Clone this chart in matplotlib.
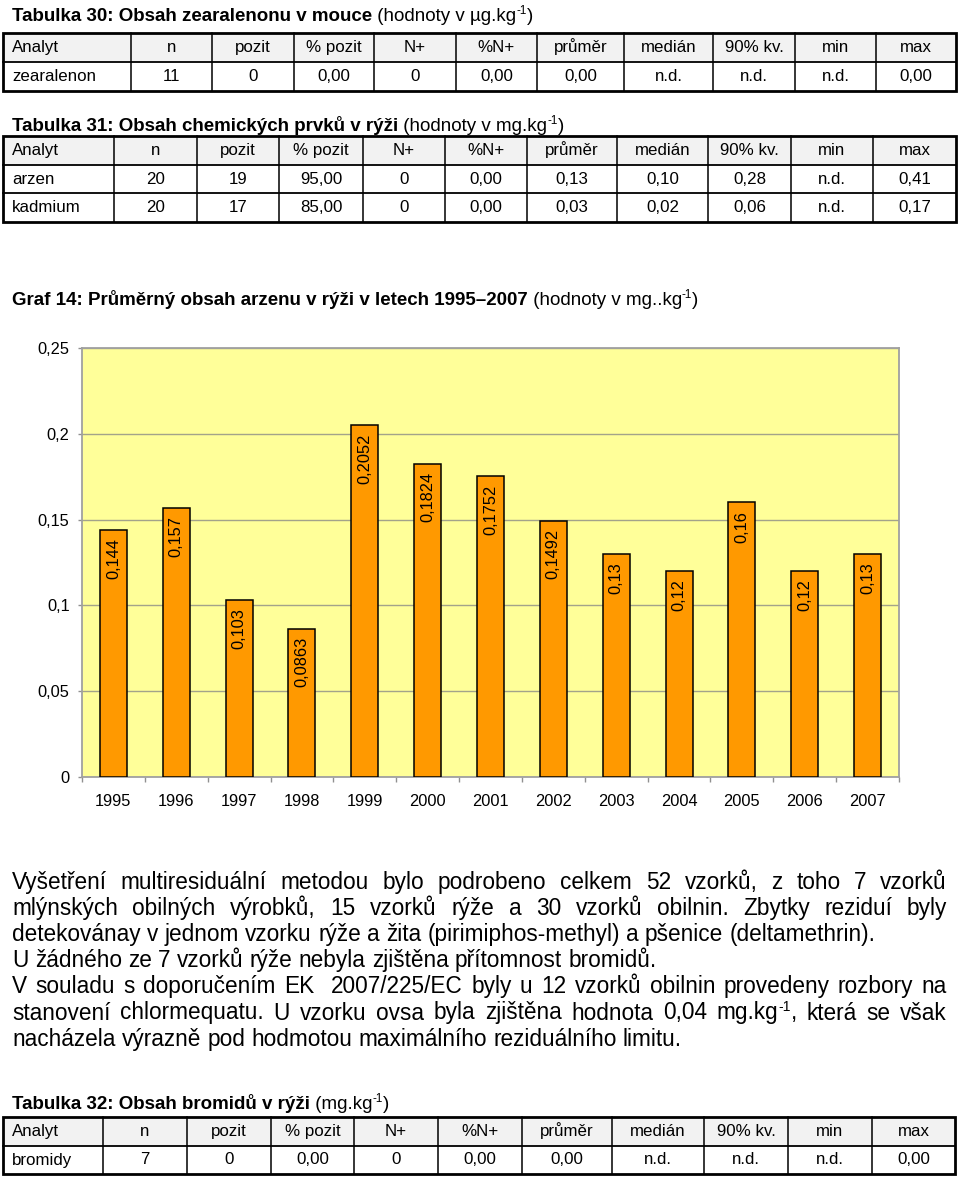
import numpy as np
import matplotlib
matplotlib.use("Agg")
import matplotlib.pyplot as plt
from matplotlib.ticker import MultipleLocator, FuncFormatter, FixedLocator
from matplotlib.patches import Rectangle

plt.rcParams['font.family'] = ['Liberation Sans', 'DejaVu Sans']

# ---- data ----
years = ["1995", "1996", "1997", "1998", "1999", "2000", "2001",
         "2002", "2003", "2004", "2005", "2006", "2007"]
arsenic = [0.144, 0.157, 0.103, 0.0863, 0.2052, 0.1824, 0.1752,
           0.1492, 0.13, 0.12, 0.16, 0.12, 0.13]

columns = ["Analyt", "n", "pozit", "% pozit", "N+", "%N+", "průměr",
           "medián", "90% kv.", "min", "max"]
t30_rows = [["zearalenon", "11", "0", "0,00", "0", "0,00", "0,00", "n.d.", "n.d.", "n.d.", "0,00"]]
t31_rows = [["arzen", "20", "19", "95,00", "0", "0,00", "0,13", "0,10", "0,28", "n.d.", "0,41"],
            ["kadmium", "20", "17", "85,00", "0", "0,00", "0,03", "0,02", "0,06", "n.d.", "0,17"]]
t32_rows = [["bromidy", "7", "0", "0,00", "0", "0,00", "0,00", "n.d.", "n.d.", "n.d.", "0,00"]]

paragraph = [
    ("Vyšetření multiresiduální metodou bylo podrobeno celkem 52 vzorků, z toho 7 vzorků", True),
    ("mlýnských obilných výrobků, 15 vzorků rýže a 30 vzorků obilnin. Zbytky reziduí byly", True),
    ("detekovánay v jednom vzorku rýže a žita (pirimiphos-methyl) a pšenice (deltamethrin).", False),
    ("U žádného ze 7 vzorků rýže nebyla zjištěna přítomnost bromidů.", False),
    ("V souladu s doporučením EK  2007/225/EC byly u 12 vzorků obilnin provedeny rozbory na", True),
    ("stanovení chlormequatu. U vzorku ovsa byla zjištěna hodnota 0,04 mg.kg^-1, která se však", True),
    ("nacházela výrazně pod hodmotou maximálního reziduálního limitu.", False),
]

fig = plt.figure(figsize=(9.6, 11.78), dpi=100)
page = fig.add_axes([0, 0, 1, 1])
page.set_xlim(0, 960)
page.set_ylim(1178, 0)
page.axis("off")
renderer = fig.canvas.get_renderer()


def text_width(t):
    return t.get_window_extent(renderer).width


def draw_runs(x, y, parts, size=13.5):
    # parts: (text, bold, superscript)
    for txt, bold, sup in parts:
        fs = size * 0.62 if sup else size
        t = page.text(x, y - (size * 0.5 if sup else 0), txt, fontsize=fs,
                      fontweight="bold" if bold else "normal", va="baseline", ha="left")
        x += text_width(t)
    return x


def draw_table(xs, ys, rows, size=12.2):
    page.add_patch(Rectangle((xs[0], ys[0]), xs[-1] - xs[0], ys[1] - ys[0],
                             facecolor="#f2f2f2", edgecolor="none"))
    for xv in xs[1:-1]:
        page.plot([xv, xv], [ys[0], ys[-1]], color="black", lw=1.1)
    for yv in ys[1:-1]:
        page.plot([xs[0], xs[-1]], [yv, yv], color="black", lw=1.3)
    page.add_patch(Rectangle((xs[0], ys[0]), xs[-1] - xs[0], ys[-1] - ys[0],
                             facecolor="none", edgecolor="black", lw=2.0))
    for r, row in enumerate([columns] + rows):
        yb = (ys[r] + ys[r + 1]) / 2 + 4.5
        for c, val in enumerate(row):
            if c == 0:
                page.text(xs[0] + 9, yb, val, fontsize=size, va="baseline", ha="left")
            else:
                page.text((xs[c] + xs[c + 1]) / 2, yb, val, fontsize=size,
                          va="baseline", ha="center")


# ---- tables ----
draw_runs(12, 21, [("Tabulka 30: Obsah zearalenonu v mouce", True, False),
                   (" (hodnoty v µg.kg", False, False), ("-1", False, True), (")", False, False)])
draw_table([3, 131, 212, 294, 374, 456, 537, 624, 713, 795, 876, 956],
           [33, 62, 91], t30_rows)

draw_runs(12, 131, [("Tabulka 31: Obsah chemických prvků v rýži", True, False),
                    (" (hodnoty v mg.kg", False, False), ("-1", False, True), (")", False, False)])
draw_table([3, 114, 197, 279, 363, 445, 527, 617, 708, 791, 873, 956],
           [136, 165, 193, 222], t31_rows)

draw_runs(12, 305, [("Graf 14: Průměrný obsah arzenu v rýži v letech 1995–2007", True, False),
                    (" (hodnoty v mg..kg", False, False), ("-1", False, True), (")", False, False)])

draw_runs(12, 1109, [("Tabulka 32: Obsah bromidů v rýži", True, False),
                     (" (mg.kg", False, False), ("-1", False, True), (")", False, False)])
draw_table([3, 103, 187, 271, 354, 438, 522, 612, 704, 788, 872, 955],
           [1117, 1146, 1174], t32_rows)

# ---- paragraph (justified) ----
psize = 16.3
probe1 = page.text(0, -100, "a a", fontsize=psize)
probe2 = page.text(0, -100, "aa", fontsize=psize)
space_w = text_width(probe1) - text_width(probe2)
probe1.remove()
probe2.remove()


def word_parts(w):
    if "^" not in w:
        return [(w, False, False)]
    a, b = w.split("^", 1)
    return [(a, False, False), (b[:2], False, True), (b[2:], False, False)]


def measure(parts):
    tot = 0
    for txt, bold, sup in parts:
        if not txt:
            continue
        t = page.text(0, -100, txt, fontsize=psize * 0.62 if sup else psize)
        tot += text_width(t)
        t.remove()
    return tot


left, right = 12, 947
for i, (line, justify) in enumerate(paragraph):
    yb = 889 + i * 26.1
    words = [word_parts(w) if w else [] for w in line.split(" ")]
    widths = [measure(p) for p in words]
    gap = (right - left - sum(widths)) / (len(words) - 1) if justify else space_w
    x = left
    for parts, w in zip(words, widths):
        if parts:
            draw_runs(x, yb, [p for p in parts if p[0]], size=psize)
        x += w + gap

# ---- chart ----
ax = fig.add_axes([82 / 960, 1 - 777 / 1178, (899 - 82) / 960, (777 - 348) / 1178])
ax.set_facecolor("#ffff99")
x = np.arange(len(years))
ax.bar(x, arsenic, width=0.43, color="#ff9900", edgecolor="black", lw=1.1, zorder=3)
for xi, v in zip(x, arsenic):
    ax.annotate(str(v).replace(".", ","), (xi, v), xytext=(0, -6), textcoords="offset points",
                rotation=90, ha="center", va="top", fontsize=11.8, zorder=4)

ax.set_xlim(-0.5, len(years) - 0.5)
ax.set_ylim(0, 0.25)
ax.yaxis.set_major_locator(MultipleLocator(0.05))
ax.yaxis.set_major_formatter(FuncFormatter(lambda v, p: f"{v:g}".replace(".", ",")))
ax.yaxis.grid(True, color="#a3a38a", lw=1.0)
ax.set_axisbelow(True)
ax.set_xticks(x)
ax.set_xticklabels(years)
ax.xaxis.set_minor_locator(FixedLocator(np.arange(len(years) + 1) - 0.5))
ax.tick_params(axis="x", which="major", length=0, pad=12, labelsize=11.8)
ax.tick_params(axis="x", which="minor", length=3.5, color="#909090", width=1)
ax.tick_params(axis="y", length=3, color="#909090", width=1, pad=6, labelsize=11.8)
for s in ax.spines.values():
    s.set_color("#a0a0a0")
    s.set_linewidth(1.3)

fig.savefig("out.png", dpi=100)
